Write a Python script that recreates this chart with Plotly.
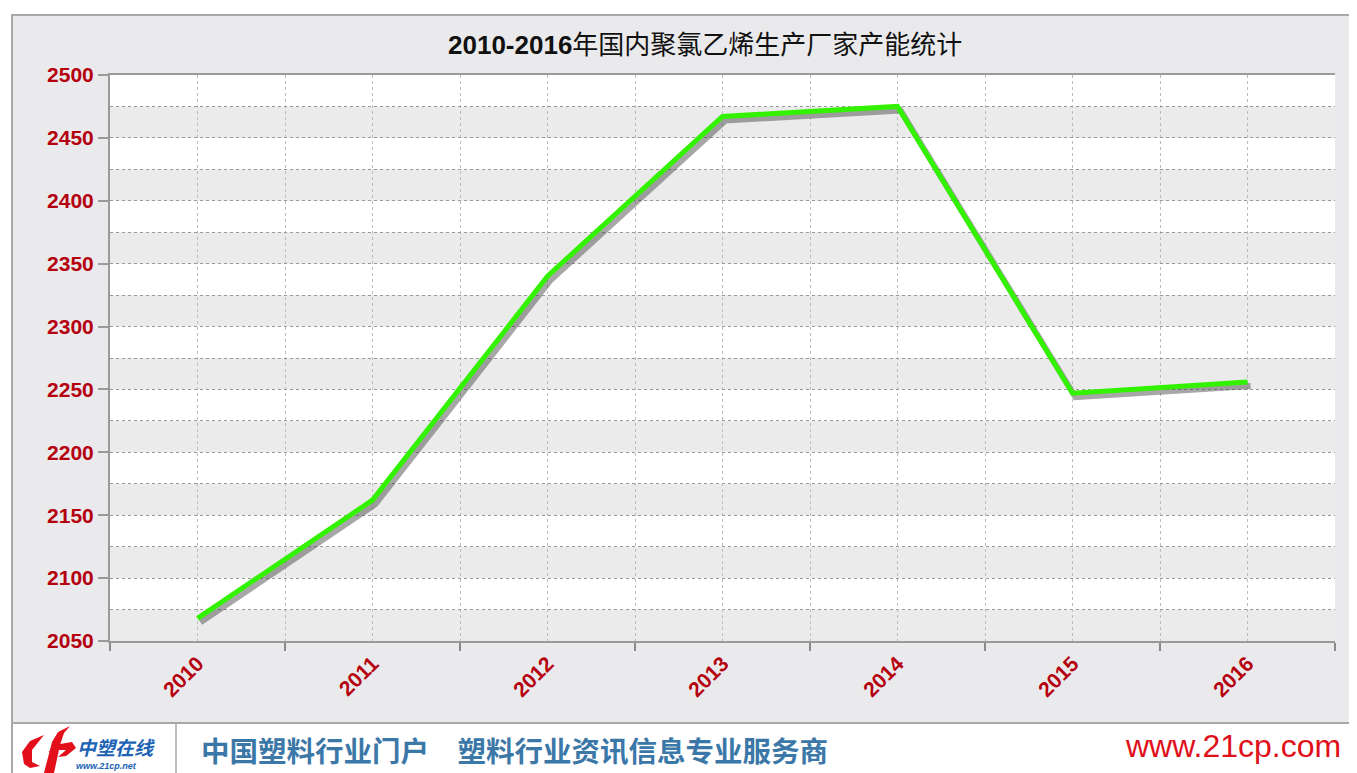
import plotly.graph_objects as go

years = ["2010", "2011", "2012", "2013", "2014", "2015", "2016"]
capacity = [2068, 2162, 2340, 2467, 2475, 2247, 2256]
y_ticks = [2050, 2100, 2150, 2200, 2250, 2300, 2350, 2400, 2450, 2500]
title_text = "<b>2010-2016</b>年国内聚氯乙烯生产厂家产能统计"
footer_text = "中国塑料行业门户　塑料行业资讯信息专业服务商"
site_text = "www.21cp.com"
logo_text = "<b><i>中塑在线</i></b>"
logo_sub = "<b><i>www.21cp.net</i></b>"

# page has an 8px body margin; figure sized to fit the window
OFF = 8
W, H = 1357 - OFF, 773 - OFF
SX0, SX1, SY0, SY1 = 110, 1335, 75, 641   # plot area in screen pixels
L, T = SX0 - OFF, SY0 - OFF
PW, PH = SX1 - SX0, SY1 - SY0
R, B = W - L - PW, H - T - PH

def px(x):
    return (x - SX0) / PW

def py(y):
    return (SY1 - y) / PH

xs = list(range(len(years)))
# shadow: 3px right, 4px down expressed in axis units
sh_dx = 3 / (PW / 7)
sh_dy = 4 / (PH / 450)
fig = go.Figure()
fig.add_trace(go.Scatter(x=[v + sh_dx for v in xs], y=[v - sh_dy for v in capacity],
                         mode="lines", line=dict(color="rgba(60,60,60,0.45)", width=6),
                         hoverinfo="skip", showlegend=False))
fig.add_trace(go.Scatter(x=xs, y=capacity, mode="lines",
                         line=dict(color="#33f200", width=5), showlegend=False))

red = "#b5000f"
fig.update_layout(
    width=W, height=H,
    margin=dict(l=L, r=R, t=T, b=B, autoexpand=False),
    paper_bgcolor="white", plot_bgcolor="rgba(0,0,0,0)",
    xaxis=dict(range=[-0.5, 6.5], tickvals=xs, ticktext=years, ticks="",
               tickangle=-45,
               tickfont=dict(family="Liberation Sans, Arial", size=21, color=red, weight="bold"),
               showgrid=True, gridcolor="#bdbdbd", griddash="dot", gridwidth=1,
               showline=True, linecolor="#9a9a9a", linewidth=2, mirror=True,
               minor=dict(tickvals=[i - 0.5 for i in range(8)], ticks="outside", ticklen=8,
                          tickcolor="#8a8a8a", tickwidth=2, showgrid=True,
                          gridcolor="#bdbdbd", griddash="dot", gridwidth=1),
               zeroline=False, fixedrange=True),
    yaxis=dict(range=[2050, 2500], tickvals=y_ticks, ticks="outside", ticklen=10,
               tickcolor="#9a9a9a", tickwidth=2,
               tickfont=dict(family="Liberation Sans, Arial", size=21, color=red, weight="bold"),
               showgrid=True, gridcolor="#999999", griddash="dot", gridwidth=1,
               showline=True, linecolor="#9a9a9a", linewidth=2,
               minor=dict(dtick=25, showgrid=True, gridcolor="#999999", griddash="dot", gridwidth=1),
               zeroline=False, fixedrange=True),
)

shapes = []
shapes.append(dict(type="rect", xref="paper", yref="paper", layer="below",
                   x0=px(12), x1=px(1370), y0=py(723), y1=py(15),
                   fillcolor="#eaeaec", line=dict(color="#a8a8a8", width=2)))
shapes.append(dict(type="rect", xref="paper", yref="paper", layer="below",
                   x0=0, x1=1, y0=0, y1=1,
                   fillcolor="white", line=dict(width=0)))
for i in range(0, 18, 2):
    lo = 2050 + i * 25
    shapes.append(dict(type="rect", xref="x", yref="y", layer="below",
                       x0=-0.5, x1=6.5, y0=lo, y1=lo + 25,
                       fillcolor="#ebebeb", line=dict(width=0)))
shapes.append(dict(type="line", xref="paper", yref="paper", x0=px(176), x1=px(176),
                   y0=py(723), y1=py(780), line=dict(color="#a8a8a8", width=1.5)))
shapes.append(dict(type="line", xref="paper", yref="paper", x0=px(12), x1=px(12),
                   y0=py(723), y1=py(780), line=dict(color="#a8a8a8", width=2)))

def pth(points):
    return "M " + " L ".join(f"{px(a)},{py(b)}" for a, b in points) + " Z"

# rough logo swoosh
shapes.append(dict(type="path", xref="paper", yref="paper",
                   path=pth([(24, 764), (22, 752), (30, 741), (44, 735), (40, 740), (32, 750), (32, 762), (40, 766), (30, 768)]),
                   fillcolor="#e3101c", line=dict(width=0)))
shapes.append(dict(type="path", xref="paper", yref="paper",
                   path=pth([(44, 773), (52, 742), (58, 732), (70, 726), (64, 733), (60, 745), (54, 773)]),
                   fillcolor="#e3101c", line=dict(width=0)))
shapes.append(dict(type="path", xref="paper", yref="paper",
                   path=pth([(48, 752), (60, 744), (72, 742), (76, 748), (66, 756), (58, 757), (66, 750), (58, 750)]),
                   fillcolor="#e3101c", line=dict(width=0)))
fig.update_layout(shapes=shapes)

annotations = [
    dict(text=title_text, xref="paper", yref="paper", x=px(705), y=py(45),
         showarrow=False, xanchor="center", yanchor="middle",
         font=dict(family="Liberation Sans, Noto Sans CJK SC", size=26, color="#111111")),
    dict(text=footer_text, xref="paper", yref="paper", x=px(199), y=py(749),
         showarrow=False, xanchor="left", yanchor="middle",
         font=dict(family="Noto Sans CJK SC", size=28.5, color="#3b78a8", weight="bold")),
    dict(text=site_text, xref="paper", yref="paper", x=px(1343), y=py(746),
         showarrow=False, xanchor="right", yanchor="middle",
         font=dict(family="Liberation Sans, Arial", size=32, color="#e0101a")),
    dict(text=logo_text, xref="paper", yref="paper", x=px(75), y=py(746),
         showarrow=False, xanchor="left", yanchor="middle",
         font=dict(family="Noto Sans CJK SC", size=19, color="#2062b4")),
    dict(text=logo_sub, xref="paper", yref="paper", x=px(74), y=py(766),
         showarrow=False, xanchor="left", yanchor="middle",
         font=dict(family="Liberation Sans", size=9, color="#2062b4")),
]
fig.update_layout(annotations=annotations)

fig.write_html("out.html")
